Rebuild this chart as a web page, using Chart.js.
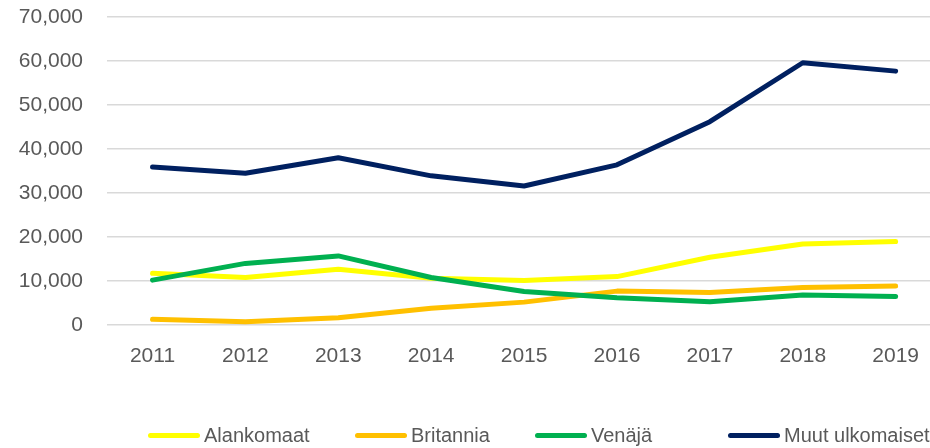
<!DOCTYPE html>
<html>
<head>
<meta charset="utf-8">
<script src="https://cdn.jsdelivr.net/npm/chart.js@4.4.0/dist/chart.umd.min.js"></script>
<style>
  body { margin: 0; background: #fff; }
  #wrap { position: relative; width: 930px; height: 448px; }
  #legend { position: absolute; left: 148px; top: 423px; display: flex;
            font: 20px "Liberation Sans", Arial, sans-serif; color: #595959; line-height: 25px; white-space: nowrap; }
  #legend .item { display: flex; align-items: center; }
  #legend .sw { width: 52px; height: 5px; border-radius: 3px; margin-right: 4px; }
</style>
</head>
<body>
<div id="wrap">
  <canvas id="myChart"></canvas>
  <div id="legend"></div>
</div>
<script>
const years = [2011, 2012, 2013, 2014, 2015, 2016, 2017, 2018, 2019];
const alankomaat = [11750, 10800, 12650, 10600, 10100, 11000, 15400, 18400, 18950];
const britannia = [1300, 750, 1650, 3800, 5200, 7700, 7400, 8550, 8850];
const venaja = [10200, 14000, 15700, 10800, 7600, 6200, 5300, 6800, 6450];
const muut = [35900, 34500, 38000, 33900, 31600, 36400, 46200, 59600, 57700];
const yTicks = [0, 10000, 20000, 30000, 40000, 50000, 60000, 70000];

const names = ['Alankomaat', 'Britannia', 'Venäjä', 'Muut ulkomaiset'];
const colors = ['#FFFF00', '#FFC000', '#00B050', '#002060'];
const series = [alankomaat, britannia, venaja, muut];

const ctx = document.getElementById('myChart').getContext('2d');
const myChart = new Chart(ctx, {
    type: 'line',
    data: {
        datasets: series.map((vals, i) => ({
            label: names[i],
            data: vals.map((v, j) => ({ x: years[j], y: v })),
            borderColor: colors[i],
            backgroundColor: colors[i],
            borderWidth: 5,
            borderCapStyle: 'round',
            borderJoinStyle: 'round',
            pointRadius: 0,
            tension: 0,
            order: series.length - i
        }))
    },
    options: {
        responsive: true,
        maintainAspectRatio: false,
        animation: false,
        layout: { padding: { top: 17, left: 0, right: 0, bottom: 0 } },
        plugins: {
            legend: { display: false },
            tooltip: { enabled: false }
        },
        scales: {
            x: {
                type: 'linear',
                min: 2010.51,
                max: 2019.37,
                grid: { display: false },
                border: { display: false },
                afterBuildTicks: function(scale) {
                    scale.ticks = years.map(v => ({ value: v }));
                },
                afterFit: function(scale) { scale.height = 123; },
                ticks: {
                    padding: 11,
                    color: '#595959',
                    font: { family: '"Liberation Sans", Arial, sans-serif', size: 21 },
                    callback: function(value) { return String(value); },
                    maxRotation: 0,
                    autoSkip: false
                }
            },
            y: {
                min: 0,
                max: 70000,
                afterBuildTicks: function(scale) {
                    scale.ticks = yTicks.map(v => ({ value: v }));
                },
                afterFit: function(scale) {
                    scale.width = 107;
                    scale.paddingTop = 0;
                    scale.paddingBottom = 0;
                },
                grid: { color: '#D9D9D9', lineWidth: 1.5, drawTicks: false },
                border: { display: false },
                ticks: {
                    padding: 24,
                    color: '#595959',
                    font: { family: '"Liberation Sans", Arial, sans-serif', size: 21 },
                    callback: function(value) { return value.toLocaleString('en-US'); }
                }
            }
        }
    }
});

// legend like the original, built from the same names and colours
const itemWidths = [207, 180, 193, null];
const legend = document.getElementById('legend');
names.forEach((n, i) => {
    const item = document.createElement('div');
    item.className = 'item';
    if (itemWidths[i]) item.style.width = itemWidths[i] + 'px';
    const sw = document.createElement('span');
    sw.className = 'sw';
    sw.style.background = colors[i];
    const tx = document.createElement('span');
    tx.textContent = n;
    item.appendChild(sw);
    item.appendChild(tx);
    legend.appendChild(item);
});
</script>
</body>
</html>
